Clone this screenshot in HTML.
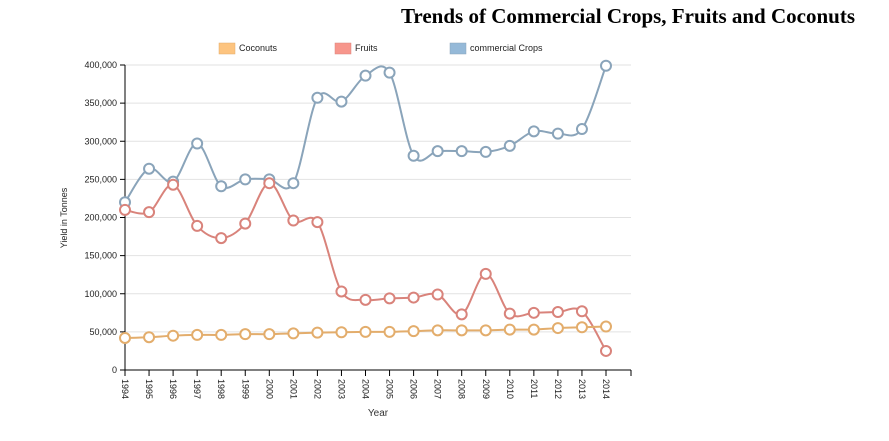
<!DOCTYPE html>
<html><head><meta charset="utf-8"><style>
body{margin:0;background:#fff;width:889px;height:436px;overflow:hidden}
svg text{font-family:"Liberation Sans",Arial,sans-serif}
</style></head><body>
<svg width="889" height="436" id="chart">
<text x="855" y="23" text-anchor="end" style="font-family:'Liberation Serif',serif;font-weight:bold;font-size:21px">Trends of Commercial Crops, Fruits and Coconuts</text>
<g id="legend"></g>
<g id="grid"></g><g id="axes"></g><g id="series"></g>
<text transform="translate(67,218) rotate(-90)" text-anchor="middle" font-size="9" fill="#222">Yield in Tonnes</text>
<text x="378" y="416" text-anchor="middle" font-size="10" fill="#333">Year</text>
</svg>
<script>
const years=[1994,1995,1996,1997,1998,1999,2000,2001,2002,2003,2004,2005,2006,2007,2008,2009,2010,2011,2012,2013,2014];
const coconuts=[42000,43000,45000,46000,46000,47000,47000,48000,49000,49500,50000,50000,51000,52000,52000,52000,53000,53000,55000,56000,57000];
const fruits=[210000,207000,243000,189000,173000,192000,245000,196000,194000,103000,92000,94000,95000,99000,73000,126000,74000,75000,76000,77000,25000];
const commercial=[220000,264000,247000,297000,241000,250000,250000,245000,357000,352000,386000,390000,281000,287000,287000,286000,294000,313000,310000,316000,399000];
const yTicks=[0,50000,100000,150000,200000,250000,300000,350000,400000];
const NS='http://www.w3.org/2000/svg';
const X0=125,STEP=24.05,Y0=370,YH=305;
const xs=i=>X0+i*STEP;
const ys=v=>Y0-v/400000*YH;
function mk(t,a,p){const e=document.createElementNS(NS,t);for(const k in a)e.setAttribute(k,a[k]);p.appendChild(e);return e;}
const grid=document.getElementById('grid'),axes=document.getElementById('axes'),ser=document.getElementById('series'),leg=document.getElementById('legend');
yTicks.forEach(t=>{
 const y=ys(t);
 if(t>0){const g=mk('line',{x1:X0,x2:631,y1:y,y2:y,stroke:'#e2e2e2'},grid);
 
 }
 mk('line',{x1:X0-5,x2:X0,y1:y,y2:y,stroke:'#000'},axes);
 const tx=mk('text',{x:X0-8,y:y+3,'text-anchor':'end','font-size':'9',fill:'#222'},axes);
 tx.textContent=t.toLocaleString('en-US');
 
 
});
mk('line',{x1:X0,x2:X0,y1:65,y2:Y0,stroke:'#000'},axes);
mk('line',{x1:X0,x2:631,y1:Y0,y2:Y0,stroke:'#000'},axes);
mk('line',{x1:631,x2:631,y1:Y0,y2:Y0+6,stroke:'#000'},axes);
years.forEach((yr,i)=>{
 const x=xs(i);
 mk('line',{x1:x,x2:x,y1:Y0,y2:Y0+6,stroke:'#000'},axes);
 const tx=mk('text',{transform:`translate(${x-3},${Y0+9}) rotate(90)`,'font-size':'9',fill:'#222'},axes);
 tx.textContent=yr;
 
 
});
function cardinal(pts){
 let d=`M${pts[0][0]},${pts[0][1]}`;
 for(let i=0;i<pts.length-1;i++){
  const p0=pts[Math.max(i-1,0)],p1=pts[i],p2=pts[i+1],p3=pts[Math.min(i+2,pts.length-1)];
  const c1=[p1[0]+(p2[0]-p0[0])/6,p1[1]+(p2[1]-p0[1])/6];
  const c2=[p2[0]-(p3[0]-p1[0])/6,p2[1]-(p3[1]-p1[1])/6];
  d+=`C${c1[0]},${c1[1]} ${c2[0]},${c2[1]} ${p2[0]},${p2[1]}`;
 }
 return d;
}
const series=[
 {name:'commercial',vals:commercial,color:'#8aa4ba',sw:'#95b9d8',label:'commercial Crops',lx:450},
 {name:'fruits',vals:fruits,color:'#d9837b',sw:'#f7968c',label:'Fruits',lx:335},
 {name:'coconuts',vals:coconuts,color:'#e3ad6c',sw:'#fdc47f',label:'Coconuts',lx:219}
];
series.forEach(s=>{
 const pts=s.vals.map((v,i)=>[xs(i),ys(v)]);
 const p=mk('path',{d:cardinal(pts),fill:'none',stroke:s.color,'stroke-width':2},ser);
 
 
 pts.forEach(pt=>{
  const c=mk('circle',{cx:pt[0],cy:pt[1],r:5,fill:'#fff',stroke:s.color,'stroke-width':2},ser);
  
  
 });
 const r=mk('rect',{x:s.lx,y:43,width:16,height:11,fill:s.sw,stroke:s.color,'stroke-width':0.5},leg);
 
 
 const t=mk('text',{x:s.lx+20,y:51,'font-size':'9',fill:'#222'},leg);
 t.textContent=s.label;
 
 
});
</script>
</body></html>
